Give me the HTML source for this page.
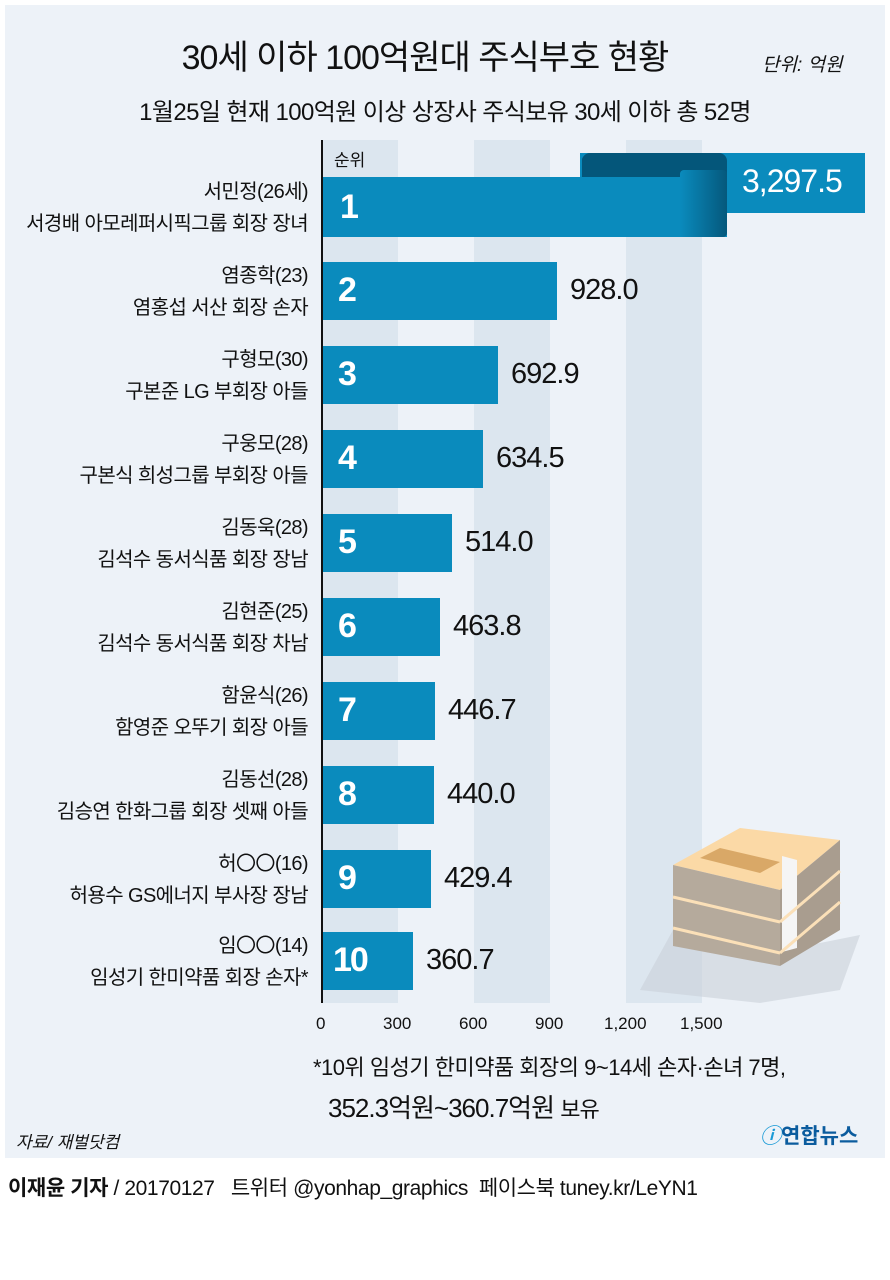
<!DOCTYPE html>
<html><head><meta charset="utf-8"><style>
body{margin:0;width:890px;height:1280px;background:#fff;position:relative;overflow:hidden;font-family:"Liberation Sans","Noto Sans CJK KR",sans-serif;color:#111}
.t{position:absolute;white-space:nowrap}
.lb{right:582px;font-size:20px;text-align:right;line-height:32px;letter-spacing:-0.6px}
</style></head><body>
<div style="position:absolute;left:5px;top:5px;width:880px;height:1153px;background:#edf2f8"></div>
<svg width="890" height="1280" style="position:absolute;left:0;top:0">
<defs><linearGradient id="g" x1="0" x2="1"><stop offset="0" stop-color="#0a8bbd"/><stop offset="1" stop-color="#05587c"/></linearGradient></defs>
<rect x="322" y="140" width="76" height="863" fill="#dce6ef"/>
<rect x="474" y="140" width="76" height="863" fill="#dce6ef"/>
<rect x="626" y="140" width="76" height="863" fill="#dce6ef"/>
<!-- money -->
<polygon points="640,990 673,930 760,955 860,935 840,990 760,1003" fill="#c9d0d8" opacity="0.6"/>
<polygon points="673,865 780,890 840,840 740,828" fill="#fbd9a6"/>
<polygon points="700,858 720,848 780,862 760,873" fill="#d9a867"/>
<polygon points="673,865 780,890 780,966 673,946" fill="#b5aa9c"/>
<polygon points="780,890 840,840 840,930 780,966" fill="#a99d8f"/>
<polygon points="782,856 797,860 797,948 782,952" fill="#f5f5f5"/>
<line x1="673" y1="897" x2="780" y2="922" stroke="#fbe0b8" stroke-width="3"/>
<line x1="673" y1="928" x2="780" y2="953" stroke="#fbe0b8" stroke-width="3"/>
<line x1="780" y1="922" x2="840" y2="871" stroke="#fbe0b8" stroke-width="3"/>
<line x1="780" y1="953" x2="840" y2="902" stroke="#fbe0b8" stroke-width="3"/>
<!-- bar1 ribbon -->
<rect x="580" y="153" width="285" height="60" fill="#0a8bbd"/>
<path d="M727,165 L727,200 L582,200 L582,160 Q582,153 600,153 L600,153 Q640,153 660,165 Z" fill="#04567a"/>
<rect x="582" y="153" width="145" height="20" rx="8" fill="#04567a"/>
<rect x="322" y="177" width="405" height="60" fill="#0a8bbd"/>
<rect x="680" y="170" width="47" height="67" rx="4" fill="url(#g)"/>
<rect x="322" y="262" width="235" height="58" fill="#0a8bbd"/>
<rect x="322" y="346" width="176" height="58" fill="#0a8bbd"/>
<rect x="322" y="430" width="161" height="58" fill="#0a8bbd"/>
<rect x="322" y="514" width="130" height="58" fill="#0a8bbd"/>
<rect x="322" y="598" width="118" height="58" fill="#0a8bbd"/>
<rect x="322" y="682" width="113" height="58" fill="#0a8bbd"/>
<rect x="322" y="766" width="112" height="58" fill="#0a8bbd"/>
<rect x="322" y="850" width="109" height="58" fill="#0a8bbd"/>
<rect x="322" y="932" width="91" height="58" fill="#0a8bbd"/>
<line x1="322" y1="140" x2="322" y2="1003" stroke="#111" stroke-width="2"/>
</svg>
<div class="t" style="left:0;width:890px;top:30px;text-align:center;font-size:34px;padding-right:40px;box-sizing:border-box;letter-spacing:-1px">30세 이하 100억원대 주식부호 현황</div>
<div class="t" style="left:762px;top:50px;font-size:19px;font-style:italic">단위: 억원</div>
<div class="t" style="left:0;width:890px;top:92px;text-align:center;font-size:24px;letter-spacing:-0.6px">1월25일 현재 100억원 이상 상장사 주식보유 30세 이하 총 52명</div>
<div class="t" style="left:334px;top:146px;font-size:17px">순위</div>
<div class="t" style="left:742px;top:163px;font-size:32px;color:#fff;letter-spacing:-1px">3,297.5</div>
<div class="t lb" style="top:176px">서민정(26세)<br>서경배 아모레퍼시픽그룹 회장 장녀</div>
<div class="t lb" style="top:260px">염종학(23)<br>염홍섭 서산 회장 손자</div>
<div class="t lb" style="top:344px">구형모(30)<br>구본준 LG 부회장 아들</div>
<div class="t lb" style="top:428px">구웅모(28)<br>구본식 희성그룹 부회장 아들</div>
<div class="t lb" style="top:512px">김동욱(28)<br>김석수 동서식품 회장 장남</div>
<div class="t lb" style="top:596px">김현준(25)<br>김석수 동서식품 회장 차남</div>
<div class="t lb" style="top:680px">함윤식(26)<br>함영준 오뚜기 회장 아들</div>
<div class="t lb" style="top:764px">김동선(28)<br>김승연 한화그룹 회장 셋째 아들</div>
<div class="t lb" style="top:848px">허〇〇(16)<br>허용수 GS에너지 부사장 장남</div>
<div class="t lb" style="top:930px">임〇〇(14)<br>임성기 한미약품 회장 손자*</div>
<div style="font-weight:bold;color:#fff;font-size:34px">
<div class="t" style="left:340px;top:188px">1</div>
<div class="t" style="left:338px;top:271px">2</div>
<div class="t" style="left:338px;top:355px">3</div>
<div class="t" style="left:338px;top:439px">4</div>
<div class="t" style="left:338px;top:523px">5</div>
<div class="t" style="left:338px;top:607px">6</div>
<div class="t" style="left:338px;top:691px">7</div>
<div class="t" style="left:338px;top:775px">8</div>
<div class="t" style="left:338px;top:859px">9</div>
<div class="t" style="left:333px;top:941px;letter-spacing:-2px">10</div>
</div>
<div style="font-size:29px;letter-spacing:-1px">
<div class="t" style="left:570px;top:274px">928.0</div>
<div class="t" style="left:511px;top:358px">692.9</div>
<div class="t" style="left:496px;top:442px">634.5</div>
<div class="t" style="left:465px;top:526px">514.0</div>
<div class="t" style="left:453px;top:610px">463.8</div>
<div class="t" style="left:448px;top:694px">446.7</div>
<div class="t" style="left:447px;top:778px">440.0</div>
<div class="t" style="left:444px;top:862px">429.4</div>
<div class="t" style="left:426px;top:944px">360.7</div>
</div>
<div style="font-size:17px">
<div class="t" style="left:316px;top:1014px">0</div>
<div class="t" style="left:383px;top:1014px">300</div>
<div class="t" style="left:459px;top:1014px">600</div>
<div class="t" style="left:535px;top:1014px">900</div>
<div class="t" style="left:604px;top:1014px">1,200</div>
<div class="t" style="left:680px;top:1014px">1,500</div>
</div>
<div class="t" style="left:313px;top:1050px;font-size:22px;letter-spacing:-0.5px">*10위 임성기 한미약품 회장의 9~14세 손자·손녀 7명,</div>
<div class="t" style="left:328px;top:1088px;font-size:26px;letter-spacing:-1px">352.3억원~360.7억원 <span style="font-size:22px">보유</span></div>
<div class="t" style="left:16px;top:1128px;font-size:17px;font-style:italic">자료/ 재벌닷컴</div>
<div class="t" style="left:760px;top:1120px;font-size:21px;font-weight:bold;color:#0b5c9e"><span style="color:#1a9ad6;font-style:italic">ⓘ</span>연합뉴스</div>
<div class="t" style="left:8px;top:1172px;font-size:21px;letter-spacing:-0.4px"><b>이재윤 기자</b> / 20170127 &nbsp; 트위터 @yonhap_graphics &nbsp;페이스북 tuney.kr/LeYN1</div>
</body></html>
